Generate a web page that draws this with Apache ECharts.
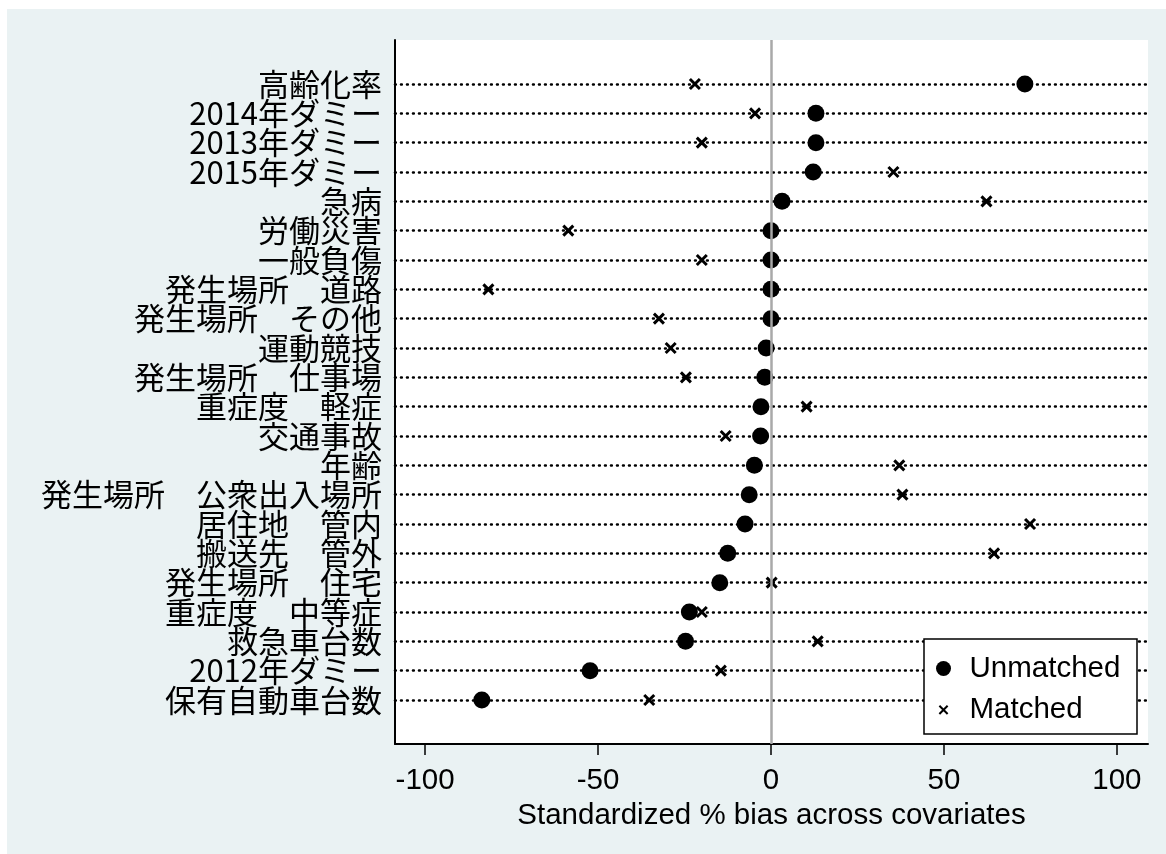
<!DOCTYPE html>
<html>
<head>
<meta charset="utf-8">
<script src="https://cdn.jsdelivr.net/npm/echarts@6/dist/echarts.min.js"></script>
<style>
  html, body { margin: 0; padding: 0; background: #ffffff; }
  #chart { position: absolute; left: 7px; top: 9px; width: 1159px; height: 845px; }
</style>
</head>
<body>
<div id="chart"></div>
<script>
// Covariates, top to bottom
const categories = [
  '高齢化率', '2014年ダミー', '2013年ダミー', '2015年ダミー', '急病',
  '労働災害', '一般負傷', '発生場所　道路', '発生場所　その他', '運動競技',
  '発生場所　仕事場', '重症度　軽症', '交通事故', '年齢', '発生場所　公衆出入場所',
  '居住地　管内', '搬送先　管外', '発生場所　住宅', '重症度　中等症', '救急車台数',
  '2012年ダミー', '保有自動車台数'
];

// Standardized % bias before matching
const unmatched = [
  73.4, 13.0, 13.0, 12.2, 3.2,
  0.0, 0.0, 0.0, 0.0, -1.4,
  -1.8, -2.9, -3.0, -4.8, -6.3,
  -7.5, -12.5, -14.8, -23.6, -24.7,
  -52.3, -83.6
];

// Standardized % bias after matching
const matched = [
  -22.0, -4.6, -20.0, 35.4, 62.3,
  -58.6, -20.0, -81.7, -32.4, -29.0,
  -24.6, 10.3, -13.1, 37.1, 38.0,
  74.9, 64.5, 0.2, -20.0, 13.5,
  -14.5, -35.2
];

const xTicks = [-100, -50, 0, 50, 100];
const xTitle = 'Standardized % bias across covariates';
const seriesNames = ['Unmatched', 'Matched'];

const Y_MIN = -1.5, Y_MAX = 22.5;
const rowIndex = categories.map((_, i) => i);
// blank end stops keep the edge rows from being culled as overlapping
const yLabelValues = [Y_MIN].concat(rowIndex, [Y_MAX]);
const crossPath = 'path://M0,0L10,10M10,0L0,10';
const legendCross = 'path://M0,0M20,20M4.5,4.5L15.5,15.5M15.5,4.5L4.5,15.5';
const latinFont = 'Liberation Sans, Arial';

const chart = echarts.init(document.getElementById('chart'), null, { renderer: 'canvas' });

chart.setOption({
  backgroundColor: '#eaf2f3',
  animation: false,
  grid: {
    left: 388, top: 31, right: 18, bottom: 110,
    show: true, backgroundColor: '#ffffff', borderWidth: 0
  },
  xAxis: {
    type: 'value',
    min: -108.7, max: 109,
    name: xTitle,
    nameLocation: 'middle',
    nameGap: 46.5,
    nameTextStyle: { fontFamily: latinFont, fontSize: 29.5, color: '#000' },
    axisLine: { show: true, onZero: false, lineStyle: { color: '#000', width: 2 } },
    axisTick: { show: true, length: 11, customValues: xTicks, lineStyle: { color: '#000', width: 1.5 } },
    axisLabel: {
      customValues: xTicks, margin: 22,
      showMinLabel: true, showMaxLabel: true,
      fontFamily: latinFont, fontSize: 29.5, color: '#000'
    },
    splitLine: { show: false }
  },
  yAxis: {
    type: 'value',
    inverse: true,
    min: Y_MIN, max: Y_MAX,
    axisLine: { show: true, onZero: false, lineStyle: { color: '#000', width: 2 } },
    axisTick: { show: false },
    axisLabel: {
      customValues: yLabelValues,
      formatter: v => categories[v] ?? '',
      hideOverlap: false,
      margin: 13,
      fontFamily: 'Noto Sans CJK JP', fontSize: 31, color: '#000'
    },
    splitLine: { show: false }
  },
  legend: {
    orient: 'vertical',
    left: 928, top: 644.5,
    padding: 0,
    itemWidth: 42, itemHeight: 15,
    itemGap: 11.3,
    textStyle: { fontFamily: latinFont, fontSize: 29.5, lineHeight: 30, color: '#000' },
    data: [
      { name: seriesNames[0], icon: 'circle' },
      { name: seriesNames[1], icon: legendCross, itemStyle: { borderWidth: 2, borderColor: '#000', color: '#000' } }
    ],
    z: 20
  },
  graphic: [{
    type: 'rect', z: 15,
    shape: { x: 917, y: 630, width: 213, height: 95 },
    style: { fill: '#ffffff', stroke: '#000', lineWidth: 1.5 }
  }],
  series: [
    {
      // dotted row guides and the zero reference line
      type: 'line', data: [], z: 1, silent: true,
      markLine: {
        silent: true, symbol: 'none', animation: false,
        label: { show: false },
        emphasis: { disabled: true },
        data: rowIndex.map(i => ({
          yAxis: i,
          lineStyle: { color: '#000', width: 2.6, type: [0.8, 5.2], cap: 'round', opacity: 1 }
        })).concat([{
          xAxis: 0,
          lineStyle: { color: '#a9a9a9', width: 2.5, type: 'solid', opacity: 1 }
        }])
      }
    },
    {
      name: seriesNames[0],
      type: 'scatter', z: 3,
      symbol: 'circle', symbolSize: 17,
      itemStyle: { color: '#000', opacity: 1 },
      data: unmatched.map((v, i) => [v, i])
    },
    {
      name: seriesNames[1],
      type: 'scatter', z: 4,
      symbol: crossPath, symbolSize: 10,
      itemStyle: { color: '#000', borderColor: '#000', borderWidth: 3, opacity: 1 },
      data: matched.map((v, i) => [v, i])
    }
  ]
});
</script>
</body>
</html>
